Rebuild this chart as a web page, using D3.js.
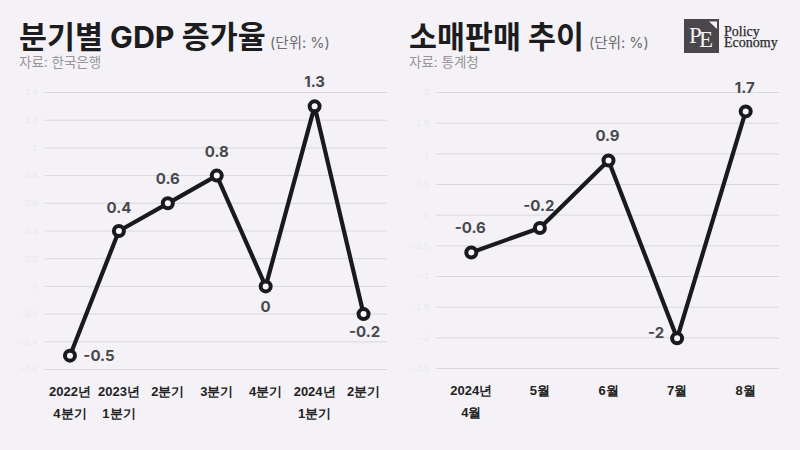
<!DOCTYPE html>
<html lang="ko">
<head>
<meta charset="utf-8">
<script src="https://cdn.jsdelivr.net/npm/d3@7"></script>
<style>
    html, body { margin: 0; padding: 0; background: #f4f2f6; }
    svg { display: block; font-family: Inter, "Noto Sans CJK KR", sans-serif; }
    .title { font-size: 30.4px; font-weight: 700; fill: #1c1c1e; }
    .unit { font-size: 14.5px; fill: #6b6b70; }
    .source { font-size: 13.5px; fill: #97959a; }
    .y-axis text { font-size: 9px; fill: #e9e7eb; }
    .y-axis line { stroke: #d9d8dc; stroke-width: 1; }
    .x-axis text { font-size: 13px; font-weight: 700; fill: #222; }
    .value-label { font-size: 15px; font-weight: 650; fill: #48484c; }
    .logo-text { font-family: "Liberation Serif", serif; font-size: 14px; font-weight: 400; fill: #2a2a2a; stroke: #2a2a2a; stroke-width: 0.25; }
</style>
</head>
<body>
<svg id="chart" width="800" height="450"></svg>
<script>
const gdpCategories = [["2022년", "4분기"], ["2023년", "1분기"], ["2분기"], ["3분기"], ["4분기"], ["2024년", "1분기"], ["2분기"]];
const gdpValues = [-0.5, 0.4, 0.6, 0.8, 0, 1.3, -0.2];
const gdpTicks = [1.4, 1.2, 1, 0.8, 0.6, 0.4, 0.2, 0, -0.2, -0.4, -0.6];

const retailCategories = [["2024년", "4월"], ["5월"], ["6월"], ["7월"], ["8월"]];
const retailValues = [-0.6, -0.2, 0.9, -2, 1.7];
const retailTicks = [2, 1.5, 1, 0.5, 0, -0.5, -1, -1.5, -2, -2.5];

const svg = d3.select("#chart");

// Helper - one line panel: gridlines, faint y labels, two-line x labels, line with ring markers
function drawPanel(cfg) {
    const x = d3.scaleBand().domain(d3.range(cfg.categories.length)).range([cfg.left, cfg.right]);
    const y = d3.scaleLinear().domain(d3.extent(cfg.ticks)).range([cfg.bottom, cfg.top]);
    const cx = i => x(i) + x.bandwidth() / 2 + cfg.markShift[0];
    const cy = d => y(d) + cfg.markShift[1];

    svg.append("text").attr("class", "title").attr("x", cfg.titleX).attr("y", 48).text(cfg.title);
    svg.append("text").attr("class", "unit").attr("x", cfg.unitX).attr("y", 48).text("(단위: %)");
    svg.append("text").attr("class", "source").attr("x", cfg.titleX).attr("y", 67).text(cfg.source);

    const yAxis = svg.append("g")
        .attr("class", "y-axis")
        .attr("transform", `translate(${cfg.left},0)`)
        .call(d3.axisLeft(y).tickValues(cfg.ticks).tickSize(-(cfg.right - cfg.left)).tickPadding(7).tickFormat(d3.format("~g")));
    yAxis.select(".domain").remove();

    const xAxis = svg.append("g")
        .attr("class", "x-axis")
        .attr("transform", `translate(0,${cfg.bottom})`)
        .call(d3.axisBottom(x).tickSize(0).tickFormat(""));
    xAxis.select(".domain").remove();
    xAxis.selectAll(".tick text").attr("dy", null).each(function (i) {
        d3.select(this).selectAll("tspan")
            .data(cfg.categories[i])
            .join("tspan")
            .attr("x", cfg.markShift[0])
            .attr("y", (d, n) => 27 + n * 21.5)
            .text(d => d);
    });

    const line = d3.line().x((d, i) => cx(i)).y(cy);
    svg.append("path")
        .datum(cfg.values)
        .attr("d", line)
        .attr("fill", "none")
        .attr("stroke", "#1a1a1c")
        .attr("stroke-width", 4.2)
        .attr("stroke-linejoin", "round");

    svg.append("g").selectAll("circle")
        .data(cfg.values)
        .join("circle")
        .attr("cx", (d, i) => cx(i))
        .attr("cy", cy)
        .attr("r", 5)
        .attr("fill", "#f8f7fa")
        .attr("stroke", "#1a1a1c")
        .attr("stroke-width", 4);

    svg.append("g").selectAll("text")
        .data(cfg.values)
        .join("text")
        .attr("class", "value-label")
        .attr("text-anchor", "middle")
        .attr("x", (d, i) => cx(i) + cfg.labelOffsets[i][0])
        .attr("y", (d, i) => cy(d) + cfg.labelOffsets[i][1])
        .text(d => d);
}

drawPanel({
    title: "분기별 GDP 증가율", source: "자료: 한국은행",
    titleX: 19, unitX: 270,
    categories: gdpCategories, values: gdpValues, ticks: gdpTicks,
    left: 44.5, right: 387, top: 92, bottom: 369,
    markShift: [1, 0.5],
    labelOffsets: [[29, 5], [0, -18], [0, -19], [0, -19], [0, 26], [0, -19], [1, 23]]
});

drawPanel({
    title: "소매판매 추이", source: "자료: 통계청",
    titleX: 409, unitX: 589,
    categories: retailCategories, values: retailValues, ticks: retailTicks,
    left: 436, right: 779, top: 92, bottom: 368,
    markShift: [1, 1],
    labelOffsets: [[-1, -19], [-1, -17], [-1, -19], [-21, 0], [-1, -18]]
});

// Logo
const logo = svg.append("g");
logo.append("rect").attr("x", 684).attr("y", 19).attr("width", 35).attr("height", 34).attr("fill", "#4a474b");
logo.append("path").attr("d", "M709 21.5 L717 21.5 L717 29 Z").attr("fill", "#f4f2f6");
logo.append("text").attr("x", 689).attr("y", 43).attr("font-family", "Liberation Serif, serif")
    .attr("font-size", 23).attr("fill", "#f4f2f6").text("P");
logo.append("text").attr("x", 699).attr("y", 47).attr("font-family", "Liberation Serif, serif")
    .attr("font-size", 23).attr("fill", "#f4f2f6").text("E");
logo.append("text").attr("class", "logo-text").attr("x", 724).attr("y", 36).text("Policy");
logo.append("text").attr("class", "logo-text").attr("x", 724).attr("y", 47).text("Economy");
</script>
</body>
</html>
